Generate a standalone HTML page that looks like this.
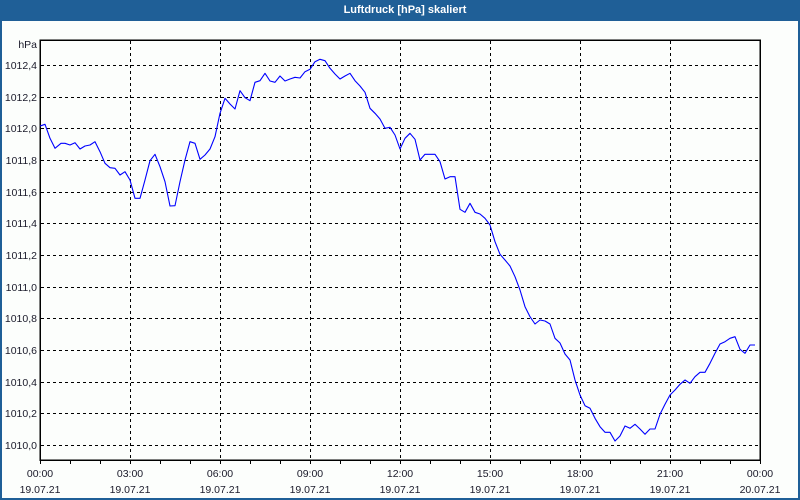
<!DOCTYPE html>
<html><head><meta charset="utf-8"><style>
html,body{margin:0;padding:0;background:#fff;}
svg{display:block;}
text{font-family:"Liberation Sans",sans-serif;}
</style></head><body>
<svg width="800" height="500" viewBox="0 0 800 500" xmlns="http://www.w3.org/2000/svg">
<rect x="0" y="0" width="800" height="500" fill="#1f5f97"/>
<rect x="2" y="21" width="796" height="477" fill="#fcfefc"/>
<text x="405" y="13" fill="#ffffff" font-size="11" font-weight="bold" text-anchor="middle">Luftdruck [hPa] skaliert</text>
<g stroke="#000" stroke-width="1" stroke-dasharray="3,3" fill="none" shape-rendering="crispEdges">
<line x1="41" y1="65.5" x2="760" y2="65.5"/>
<line x1="41" y1="97.5" x2="760" y2="97.5"/>
<line x1="41" y1="128.5" x2="760" y2="128.5"/>
<line x1="41" y1="160.5" x2="760" y2="160.5"/>
<line x1="41" y1="192.5" x2="760" y2="192.5"/>
<line x1="41" y1="223.5" x2="760" y2="223.5"/>
<line x1="41" y1="255.5" x2="760" y2="255.5"/>
<line x1="41" y1="287.5" x2="760" y2="287.5"/>
<line x1="41" y1="318.5" x2="760" y2="318.5"/>
<line x1="41" y1="350.5" x2="760" y2="350.5"/>
<line x1="41" y1="382.5" x2="760" y2="382.5"/>
<line x1="41" y1="413.5" x2="760" y2="413.5"/>
<line x1="41" y1="445.5" x2="760" y2="445.5"/>
<line x1="130.5" y1="41" x2="130.5" y2="460"/>
<line x1="220.5" y1="41" x2="220.5" y2="460"/>
<line x1="310.5" y1="41" x2="310.5" y2="460"/>
<line x1="400.5" y1="41" x2="400.5" y2="460"/>
<line x1="490.5" y1="41" x2="490.5" y2="460"/>
<line x1="580.5" y1="41" x2="580.5" y2="460"/>
<line x1="670.5" y1="41" x2="670.5" y2="460"/>
</g>
<g stroke="#000" fill="none" shape-rendering="crispEdges">
<rect x="40" y="40" width="720" height="420" stroke-width="1.5"/>
<path stroke-width="1" d="M40.5 460v4M70.5 460v4M100.5 460v4M130.5 460v4M160.5 460v4M190.5 460v4M220.5 460v4M250.5 460v4M280.5 460v4M310.5 460v4M340.5 460v4M370.5 460v4M400.5 460v4M430.5 460v4M460.5 460v4M490.5 460v4M520.5 460v4M550.5 460v4M580.5 460v4M610.5 460v4M640.5 460v4M670.5 460v4M700.5 460v4M730.5 460v4M760.5 460v4"/>
</g>
<polyline fill="none" stroke="#0000ff" stroke-width="1.1" stroke-linejoin="round" points="40,126 41,125.7 45,124.3 50,138.3 55,148.3 61,143.3 65,143.3 70,145 75,142.7 80,149 85,146 90,145 95,141.7 100,151.7 105,163.3 110,167.7 115,168.3 120,175 125,171.7 130,180 135,198.3 140,198.3 145,180 150,160.7 155,154.3 160,166.7 165,181.7 170,206 175,205.7 180,181.7 185,160 190,141.7 195,143.3 200,159.3 205,155 210,149 215,136.7 220,113.3 225,98.3 230,104 235,109 240,90.7 245,97.7 250,100.7 255,82.3 260,80.7 265,73.3 270,81 275,82.3 280,76 285,81 290,79 295,77.3 300,78 305,71.7 310,69.3 315,61.7 320,59.3 325,60.7 330,68.3 335,74 340,79 345,76 350,73.3 355,80.7 360,86 365,92.3 370,108.3 375,113.3 380,119 385,128.3 390,127.3 395,135 400,149 405,138.3 410,133.3 415,139.3 420,160 425,154.3 430,154.3 435,154.3 440,161.7 445,179 450,176.7 455,176.7 460,209.3 465,212.3 470,203.3 475,212.3 480,214 485,218.3 490,225 495,241.7 500,254.3 505,260 510,266 515,276.7 520,290 525,306.7 530,316.7 535,324 540,320 545,321 550,324 555,338.3 560,343 565,354 570,360 575,380 580,395 585,405.7 590,408.3 595,418.3 600,426.7 605,432.3 610,432.3 615,441 620,436 625,426 630,428.3 635,424.3 640,429 645,434.3 650,429 655,429 660,414.3 665,404.3 670,395 675,390 680,384.3 685,380 690,383.3 695,376.7 700,372.3 705,372.3 710,363.3 715,353.3 720,344 725,341.7 730,338.3 735,336.7 740,349.3 745,353.3 750,345 755,345"/>
<g font-size="10.5" fill="#1a1a2a" text-anchor="end">
<text x="37" y="48">hPa</text>
<text x="37" y="69">1012,4</text>
<text x="37" y="101">1012,2</text>
<text x="37" y="132">1012,0</text>
<text x="37" y="164">1011,8</text>
<text x="37" y="196">1011,6</text>
<text x="37" y="227">1011,4</text>
<text x="37" y="259">1011,2</text>
<text x="37" y="291">1011,0</text>
<text x="37" y="322">1010,8</text>
<text x="37" y="354">1010,6</text>
<text x="37" y="386">1010,4</text>
<text x="37" y="417">1010,2</text>
<text x="37" y="449">1010,0</text>
</g>
<g font-size="10.5" fill="#1a1a2a" text-anchor="middle">
<text x="40" y="477">00:00</text><text x="40" y="493">19.07.21</text>
<text x="130" y="477">03:00</text><text x="130" y="493">19.07.21</text>
<text x="220" y="477">06:00</text><text x="220" y="493">19.07.21</text>
<text x="310" y="477">09:00</text><text x="310" y="493">19.07.21</text>
<text x="400" y="477">12:00</text><text x="400" y="493">19.07.21</text>
<text x="490" y="477">15:00</text><text x="490" y="493">19.07.21</text>
<text x="580" y="477">18:00</text><text x="580" y="493">19.07.21</text>
<text x="670" y="477">21:00</text><text x="670" y="493">19.07.21</text>
<text x="760" y="477">00:00</text><text x="760" y="493">20.07.21</text>
</g>
</svg>
</body></html>
